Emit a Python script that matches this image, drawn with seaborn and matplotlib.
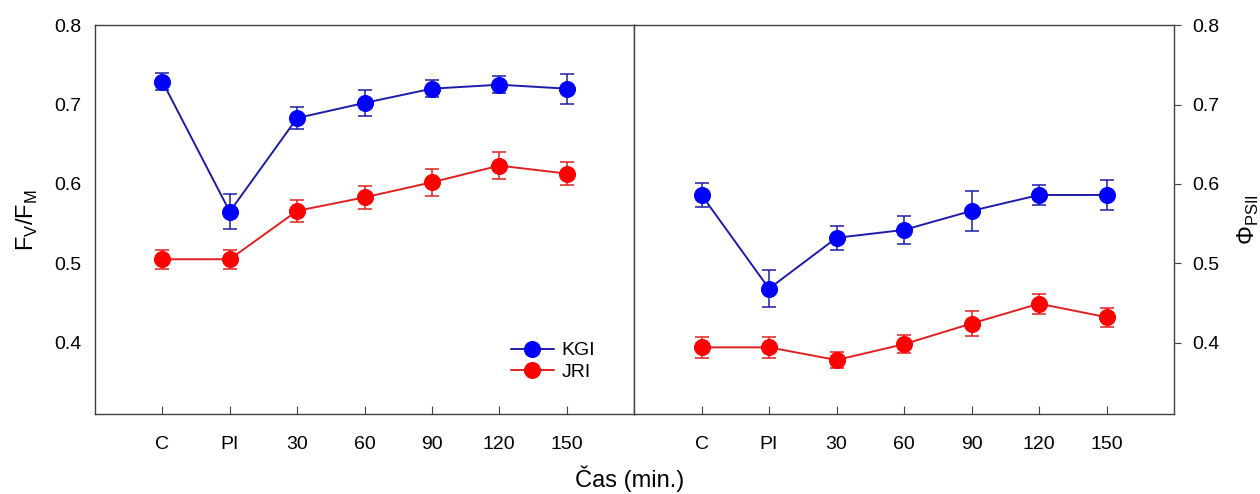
import numpy as np
import pandas as pd
import matplotlib
matplotlib.use("Agg")
import matplotlib.pyplot as plt
import seaborn as sns

# data
times = ["C", "PI", "30", "60", "90", "120", "150"]

fvfm_kgi = [0.729, 0.565, 0.683, 0.702, 0.720, 0.725, 0.720]
fvfm_kgi_err = [0.011, 0.022, 0.014, 0.016, 0.011, 0.011, 0.019]
fvfm_jri = [0.505, 0.505, 0.566, 0.583, 0.602, 0.623, 0.613]
fvfm_jri_err = [0.012, 0.012, 0.0135, 0.0145, 0.017, 0.017, 0.0145]

phi_kgi = [0.586, 0.468, 0.532, 0.542, 0.566, 0.586, 0.586]
phi_kgi_err = [0.015, 0.023, 0.0155, 0.0175, 0.0255, 0.012, 0.0185]
phi_jri = [0.394, 0.394, 0.378, 0.398, 0.424, 0.449, 0.432]
phi_jri_err = [0.013, 0.013, 0.0097, 0.0116, 0.016, 0.0127, 0.0118]

sns.set_style("ticks")
plt.rcParams['font.family'] = ['Liberation Sans', 'DejaVu Sans']
plt.rcParams['mathtext.fontset'] = 'custom'
plt.rcParams['mathtext.rm'] = 'Liberation Sans'
plt.rcParams['text.color'] = 'black'
plt.rcParams['axes.labelcolor'] = 'black'
plt.rcParams['xtick.labelcolor'] = 'black'
plt.rcParams['ytick.labelcolor'] = 'black'

kgi_line = "#1c1ca8"
kgi_mark = "#0000ff"
jri_line = "#e02020"
jri_mark = "#ff0000"
spine_c = "#404040"

fig = plt.figure(figsize=(12.6, 4.94), dpi=100)
ax1 = fig.add_axes([0.0754, 0.162, 0.4278, 0.787])
ax2 = fig.add_axes([0.5032, 0.162, 0.4286, 0.787])

x = np.arange(len(times))


def draw(ax, kgi, kgi_err, jri, jri_err):
    df = pd.DataFrame({"x": np.concatenate([x, x]),
                       "y": kgi + jri,
                       "grp": ["KGI"] * len(x) + ["JRI"] * len(x)})
    for yv, ye, lc in [(kgi, kgi_err, kgi_line), (jri, jri_err, jri_line)]:
        ax.errorbar(x, yv, yerr=ye, fmt="none", ecolor=lc, elinewidth=1.1,
                    capsize=5, capthick=1.1, zorder=2)
    for g, lc, mc in [("KGI", kgi_line, kgi_mark), ("JRI", jri_line, jri_mark)]:
        sub = df[df["grp"] == g]
        sns.lineplot(data=sub, x="x", y="y", ax=ax, color=lc, linewidth=1.4,
                     marker="o", markersize=11.5, markerfacecolor=mc,
                     markeredgecolor=mc, label=g, zorder=3)
    ax.set_xlim(-1, 7)
    ax.set_ylim(0.31, 0.8)
    ax.set_yticks([0.4, 0.5, 0.6, 0.7, 0.8])
    ax.set_yticklabels(["0.4", "0.5", "0.6", "0.7", "0.8"])
    ax.set_xticks(x)
    ax.set_xticklabels(times)
    ax.set_xlabel("")
    ax.tick_params(axis="x", direction="in", length=6, pad=16, labelsize=14,
                   color=spine_c, labelcolor="black")
    ax.tick_params(axis="y", labelsize=14, color=spine_c, labelcolor="black")
    for s in ax.spines.values():
        s.set_color(spine_c)
        s.set_linewidth(1.0)
        s.set_visible(True)


draw(ax1, fvfm_kgi, fvfm_kgi_err, fvfm_jri, fvfm_jri_err)
draw(ax2, phi_kgi, phi_kgi_err, phi_jri, phi_jri_err)

ax1.tick_params(axis="y", length=0, pad=10)
ax1.set_ylabel(r"F$_\mathregular{V}$/F$_\mathregular{M}$", fontsize=17, labelpad=10)

ax2.yaxis.tick_right()
ax2.yaxis.set_label_position("right")
ax2.tick_params(axis="y", direction="out", length=5, pad=8)
ax2.set_ylabel(r"$\Phi_\mathregular{PSII}$", fontsize=17, labelpad=12)
ax2.get_legend().remove()

leg = ax1.legend(loc="lower right", bbox_to_anchor=(0.96, 0.04), frameon=False,
                 fontsize=14, handlelength=2.2, handletextpad=0.4,
                 labelspacing=0.2)
for t in leg.get_texts():
    t.set_color("black")

fig.text(0.5, 0.03, "Čas (min.)", ha="center", va="center", fontsize=17,
         color="black")

fig.savefig("out.png", dpi=100)
